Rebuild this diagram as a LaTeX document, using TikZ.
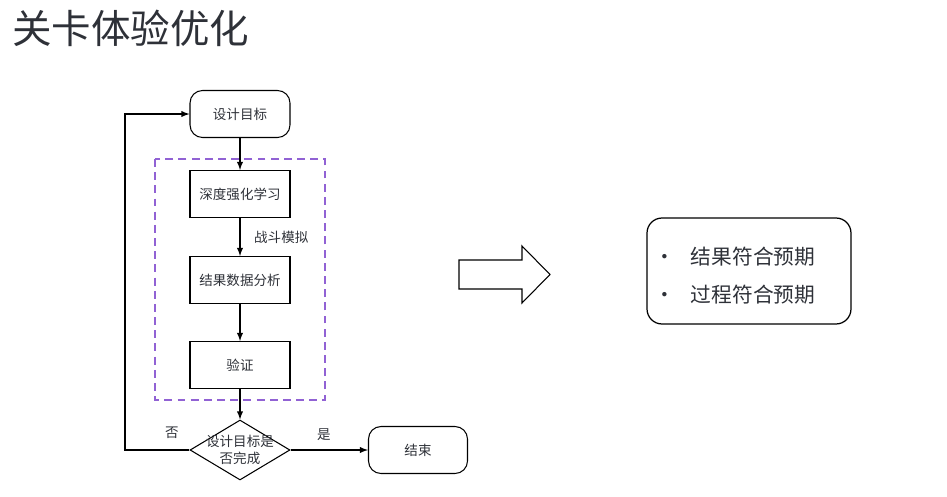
\documentclass[tikz,border=0pt]{standalone}
\usepackage{fontspec}
\setmainfont{Noto Sans CJK SC}
\usepackage{xcolor}
\usetikzlibrary{shapes.geometric}

\definecolor{txtgray}{RGB}{46,49,56}
\definecolor{simpurple}{RGB}{145,98,212}

\begin{document}
\begin{tikzpicture}[x=0.02cm, y=-0.02cm, >=latex,
    every node/.style={text=txtgray},
    step box/.style={shape=rectangle, draw, line width=0.6pt, minimum width=2cm, minimum height=0.94cm, font=\fontsize{7.7}{9}\selectfont},
    term box/.style={step box, rounded corners=0.25cm},
    decide/.style={shape=diamond, draw, line width=0.6pt, minimum width=2cm, minimum height=1.2cm, inner sep=0pt},
    arr/.style={->, line width=0.6pt},
    small/.style={font=\fontsize{7.7}{10}\selectfont}]
    \useasboundingbox (0,0) rectangle (947,497);

    \node[anchor=west, font=\fontsize{22.5}{27}\selectfont] (title) at (6,28) {关卡体验优化};

    \node[term box] (goal) at (240,114) {设计目标};
    \node[step box] (drl) at (240,194) {深度强化学习};
    \node[step box] (ana) at (240,280) {结果数据分析};
    \node[step box] (ver) at (240,365) {验证};
    \node[decide, label={[small, align=center]center:设计目标是\\否完成}] (dec) at (240,450) {};
    \node[term box, minimum width=1.98cm] (done) at (418,450) {结束};

    \draw[simpurple, line width=1.1pt, dash pattern=on 4.5pt off 3pt] (155,159) rectangle (325,400);

    \draw[arr] (goal) -- (drl);
    \draw[arr] (drl) -- (ana);
    \node[small, anchor=west] (sim) at (248,237) {战斗模拟};
    \draw[arr] (ana) -- (ver);
    \draw[arr] (ver) -- (dec);
    \draw[arr] (dec) -- (done);
    \node[small] (yes) at (324,435) {是};
    \coordinate (back) at (125,450);
    \draw[arr] (dec.west) -- (back) |- (goal.west);
    \node[small] (no) at (172,433) {否};

    % big arrow
    \draw[line width=0.6pt] (459,260) -- (522,260) -- (522,246) -- (550,274.5) -- (522,303) -- (522,289) -- (459,289) -- cycle;

    \node[draw, line width=0.7pt, rounded corners=0.3cm, minimum width=4.08cm, minimum height=2.12cm] (sumbox) at (749,271) {};
    \node[anchor=west, align=left, font=\fontsize{11.8}{21.6}\selectfont] (sumtext) at (648,276) {•\hspace{0.77em}结果符合预期\\•\hspace{0.77em}过程符合预期};
\end{tikzpicture}
\end{document}
